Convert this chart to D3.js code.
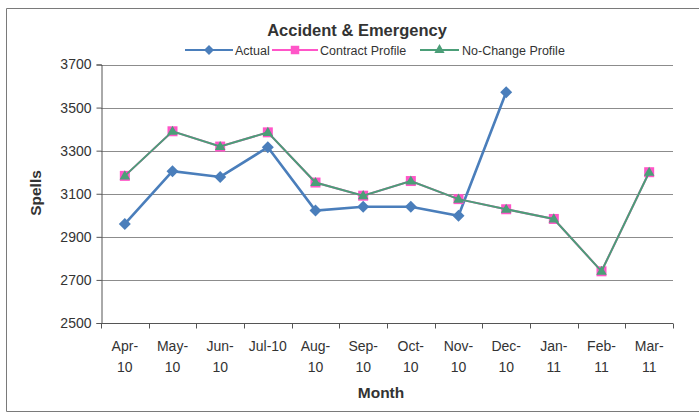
<!DOCTYPE html>
<html>
<head>
<meta charset="utf-8">
<script src="https://cdn.jsdelivr.net/npm/d3@7/dist/d3.min.js"></script>
<style>
  html, body { margin: 0; padding: 0; background: #fff; }
  svg { display: block; font-family: "Liberation Sans", Arial, sans-serif; }
</style>
</head>
<body>
<svg id="chart" width="699" height="414"></svg>
<script>
// Monthly A&E spells, April 2010 - March 2011
const months = ["Apr-10", "May-10", "Jun-10", "Jul-10", "Aug-10", "Sep-10",
                "Oct-10", "Nov-10", "Dec-10", "Jan-11", "Feb-11", "Mar-11"];
const monthLabels = [["Apr-", "10"], ["May-", "10"], ["Jun-", "10"], ["Jul-10"],
                     ["Aug-", "10"], ["Sep-", "10"], ["Oct-", "10"], ["Nov-", "10"],
                     ["Dec-", "10"], ["Jan-", "11"], ["Feb-", "11"], ["Mar-", "11"]];
const actual = [2960, 3205, 3178, 3316, 3022, 3040, 3040, 2998, 3571, null, null, null];
const contractProfile = [3183, 3390, 3319, 3385, 3152, 3091, 3159, 3075, 3028, 2983, 2740, 3200];
const noChangeProfile = [3183, 3390, 3319, 3385, 3152, 3091, 3159, 3075, 3028, 2983, 2740, 3200];
const yTicks = [2500, 2700, 2900, 3100, 3300, 3500, 3700];

const svg = d3.select("#chart");

// outer frame
svg.append("path")
  .attr("d", "M700,8.5 H6.5 V411.5 H700")
  .attr("fill", "none").attr("stroke", "#7a7a7a").attr("stroke-width", 1);

const plot = { left: 101, right: 673, top: 64.5, bottom: 323 };

const x = d3.scaleBand().domain(months).range([plot.left, plot.right]);
const y = d3.scaleLinear().domain([2500, 3700]).range([plot.bottom, plot.top]);

// horizontal gridlines
svg.append("g").selectAll("line").data(yTicks.filter(d => d !== 2500)).join("line")
  .attr("x1", plot.left).attr("x2", plot.right)
  .attr("y1", d => Math.round(y(d)) + 0.5).attr("y2", d => Math.round(y(d)) + 0.5)
  .attr("stroke", "#8c8c8c").attr("stroke-width", 1);

// y axis
const yAxis = svg.append("g")
  .attr("transform", `translate(${plot.left + 0.5},0)`)
  .call(d3.axisLeft(y).tickValues(yTicks).tickSize(5).tickPadding(5).tickFormat(d3.format("d")));
yAxis.select(".domain").attr("stroke", "#555");
yAxis.selectAll(".tick line").attr("stroke", "#555");
yAxis.selectAll(".tick text").attr("font-size", 14).attr("fill", "#333")
  .attr("font-family", "Liberation Sans, Arial, sans-serif");

// x axis with ticks at category boundaries
const xAxisG = svg.append("g").attr("transform", `translate(0,${Math.round(plot.bottom) + 0.5})`);
xAxisG.append("line").attr("x1", plot.left).attr("x2", plot.right)
  .attr("stroke", "#555");
const bounds = months.map(m => x(m)).concat([plot.right]);
xAxisG.selectAll("line.tk").data(bounds).join("line").attr("class", "tk")
  .attr("x1", d => Math.round(d) + 0.5).attr("x2", d => Math.round(d) + 0.5)
  .attr("y1", 0).attr("y2", 5).attr("stroke", "#555");
const xl = xAxisG.selectAll("text.lbl").data(monthLabels).join("text").attr("class", "lbl")
  .attr("x", (d, i) => x(months[i]) + x.bandwidth() / 2)
  .attr("text-anchor", "middle").attr("font-size", 14).attr("fill", "#333");
xl.selectAll("tspan").data(d => d).join("tspan")
  .attr("x", function () { return this.parentNode.getAttribute("x"); })
  .attr("y", (d, i) => 27 + i * 21)
  .text(d => d);

// axis titles
svg.append("text").attr("x", 381).attr("y", 398).attr("text-anchor", "middle")
  .attr("font-size", 15.5).attr("font-weight", "bold").attr("fill", "#333").text("Month");
svg.append("text").attr("transform", "translate(41,193) rotate(-90)")
  .attr("text-anchor", "middle").attr("font-size", 15.5).attr("font-weight", "bold")
  .attr("fill", "#333").text("Spells");

// title
svg.append("text").attr("x", 357).attr("y", 36).attr("text-anchor", "middle")
  .attr("font-size", 16.5).attr("font-weight", "bold").attr("fill", "#333")
  .text("Accident & Emergency");

const cx = (d, i) => x(months[i]) + x.bandwidth() / 2;
const lineGen = d3.line().defined(d => d != null).x(cx).y(d => y(d));

const colors = { actual: "#4a7ebb", contract: "#ff55c8", noChange: "#4b9e78" };

// Actual series
svg.append("path").datum(actual).attr("d", lineGen)
  .attr("fill", "none").attr("stroke", colors.actual).attr("stroke-width", 2.6);
svg.append("g").selectAll("path").data(actual.map((v, i) => [v, i]).filter(d => d[0] != null)).join("path")
  .attr("d", d3.symbol().type(d3.symbolSquare).size(72))
  .attr("transform", d => `translate(${cx(d[0], d[1])},${y(d[0])}) rotate(45)`)
  .attr("fill", colors.actual);

// Contract profile series
svg.append("path").datum(contractProfile).attr("d", lineGen)
  .attr("fill", "none").attr("stroke", colors.contract).attr("stroke-width", 2);
svg.append("g").selectAll("path").data(contractProfile).join("path")
  .attr("d", d3.symbol().type(d3.symbolSquare).size(100))
  .attr("transform", (d, i) => `translate(${cx(d, i)},${y(d)})`)
  .attr("fill", colors.contract);

// No-change profile series
svg.append("path").datum(noChangeProfile).attr("d", lineGen)
  .attr("fill", "none").attr("stroke", colors.noChange).attr("stroke-width", 2);
svg.append("g").selectAll("path").data(noChangeProfile).join("path")
  .attr("d", d3.symbol().type(d3.symbolTriangle).size(48))
  .attr("transform", (d, i) => `translate(${cx(d, i)},${y(d) + 0.5})`)
  .attr("fill", colors.noChange);

// legend
const legendItems = [
  { name: "Actual", color: colors.actual, x0: 185, x1: 233, tx: 235, sym: "diamond" },
  { name: "Contract Profile", color: colors.contract, x0: 272, x1: 318, tx: 320, sym: "square" },
  { name: "No-Change Profile", color: colors.noChange, x0: 420, x1: 459, tx: 462, sym: "triangle" }
];
const lg = svg.append("g").selectAll("g").data(legendItems).join("g");
const ly = 50;
lg.append("line").attr("x1", d => d.x0).attr("x2", d => d.x1).attr("y1", ly).attr("y2", ly)
  .attr("stroke", d => d.color).attr("stroke-width", 2.2);
lg.append("path")
  .attr("d", d => d.sym === "diamond" ? d3.symbol().type(d3.symbolSquare).size(50)()
                : d.sym === "square" ? d3.symbol().type(d3.symbolSquare).size(72)()
                : d3.symbol().type(d3.symbolTriangle).size(45)())
  .attr("transform", d => `translate(${(d.x0 + d.x1) / 2},${ly})` + (d.sym === "diamond" ? " rotate(45)" : ""))
  .attr("fill", d => d.color);
lg.append("text").attr("x", d => d.tx).attr("y", ly + 4.5)
  .attr("font-size", 12.5).attr("fill", "#333").text(d => d.name);
</script>
</body>
</html>
